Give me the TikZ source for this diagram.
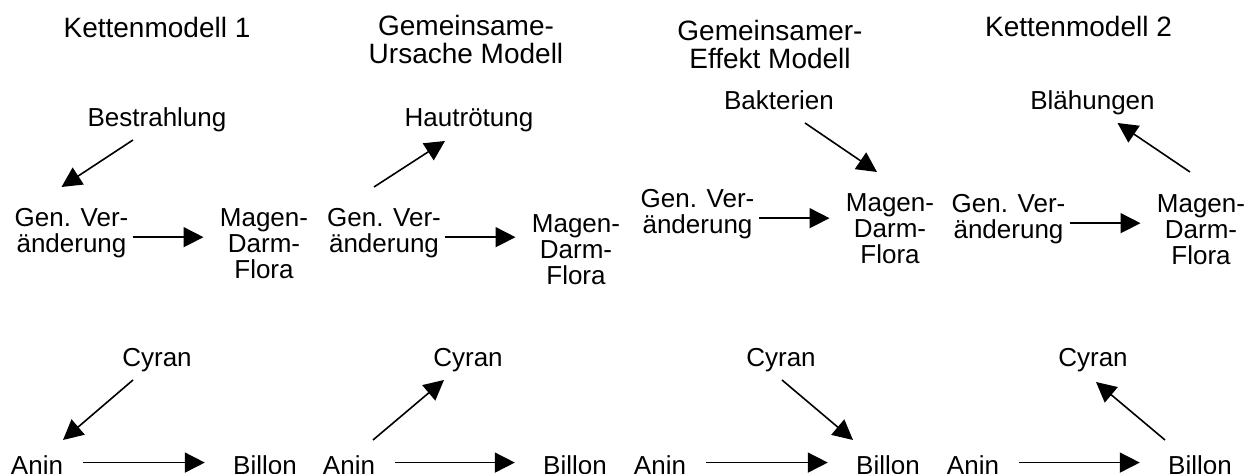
\documentclass[tikz,border=0pt]{standalone}
\usepackage{fontspec}
\setmainfont{Liberation Sans}
\usetikzlibrary{arrows.meta,calc}

\newcommand{\bodysize}{\fontsize{13pt}{13pt}\selectfont}
\newcommand{\headsize}{\fontsize{14pt}{14pt}\selectfont}

\begin{document}
\begin{tikzpicture}[
						x=0.5pt, y=-0.5pt,
						every node/.style={inner sep=0pt, font=\bodysize},
						heading/.style={align=center, font=\headsize},
						multi/.style={align=center},
						arr/.style={-{Triangle[length=10pt,width=10pt]}, line width=0.8pt},
						hor/.style={arr, shorten <=2pt, shorten >=8pt},
						low/.style={arr, shorten <=10pt, shorten >=14pt}
						]
						
						\useasboundingbox (0,0) rectangle (1255,474);
						
						% Kettenmodell 1
						\node[heading, anchor=base] (head1) at (157,38) {Kettenmodell 1};
						\node[anchor=base] (best1) at (157,127) {Bestrahlung};
						\node[multi, anchor=north] (gen1) at (71.5,208) {Gen. Ver-\\änderung};
						\node[multi, anchor=north] (flora1) at (264,208) {Magen-\\Darm-\\Flora};
						\draw[arr] ($(best1.base)+(-24,13)$) -- ($(gen1.north)+(-10,-21)$);
						\draw[hor] ([yshift=-2pt]gen1.east) -- ([yshift=-2pt]gen1.east -| flora1.west);
						
						% Gemeinsame-Ursache Modell
						\node[heading, anchor=north] (head2) at (466,14.6) {Gemeinsame-\\Ursache Modell};
						\node[anchor=base] (haut2) at (469,127) {Hautrötung};
						\node[multi, anchor=north] (gen2) at (384,208) {Gen. Ver-\\änderung};
						\node[multi, anchor=north] (flora2) at (576,214) {Magen-\\Darm-\\Flora};
						\draw[arr] ($(gen2.north)+(-10,-21)$) -- ($(haut2.base)+(-24,14)$);
						\draw[hor] ([yshift=-2pt]gen2.east) -- ([yshift=-2pt]gen2.east -| flora2.west);
						
						% Gemeinsamer-Effekt Modell
						\node[heading, anchor=north] (head3) at (770,19.6) {Gemeinsamer-\\Effekt Modell};
						\node[anchor=base] (bakt3) at (779,110) {Bakterien};
						\node[multi, anchor=north] (gen3) at (697.5,189) {Gen. Ver-\\änderung};
						\node[multi, anchor=north] (flora3) at (890,193) {Magen-\\Darm-\\Flora};
						\draw[arr] ($(bakt3.base)+(26,13)$) -- ($(flora3.north)+(-13,-21)$);
						\draw[hor] ([yshift=-2pt]gen3.east) -- ([yshift=-2pt]gen3.east -| flora3.west);
						
						% Kettenmodell 2
						\node[heading, anchor=base] (head4) at (1078.5,37) {Kettenmodell 2};
						\node[anchor=base] (blah4) at (1092.5,110) {Blähungen};
						\node[multi, anchor=north] (gen4) at (1008.5,194) {Gen. Ver-\\änderung};
						\node[multi, anchor=north] (flora4) at (1201,194) {Magen-\\Darm-\\Flora};
						\draw[arr] ($(flora4.north)+(-11,-22)$) -- ($(blah4.base)+(25,13)$);
						\draw[hor] ([yshift=-2pt]gen4.east) -- ([yshift=-2pt]gen4.east -| flora4.west);
						
						% lower row
						\node[anchor=base] (cyr1) at (157,367) {Cyran};
						\node[anchor=base] (anin1) at (37,475) {Anin};
						\node[anchor=base] (bil1) at (265,475) {Billon};
						\draw[arr] ($(cyr1.base)+(-24,13)$) -- ($(anin1.base)+(26,-35)$);
						\draw[low] ([yshift=1.5pt]anin1.east) -- ([yshift=1.5pt]anin1.east -| bil1.west);
						
						\node[anchor=base] (cyr2) at (468,367) {Cyran};
						\node[anchor=base] (anin2) at (349,475) {Anin};
						\node[anchor=base] (bil2) at (575,475) {Billon};
						\draw[arr] ($(anin2.base)+(24,-35)$) -- ($(cyr2.base)+(-24,13)$);
						\draw[low] ([yshift=1.5pt]anin2.east) -- ([yshift=1.5pt]anin2.east -| bil2.west);
						
						\node[anchor=base] (cyr3) at (781,367) {Cyran};
						\node[anchor=base] (anin3) at (660,475) {Anin};
						\node[anchor=base] (bil3) at (888,475) {Billon};
						\draw[arr] ($(cyr3.base)+(1,13)$) -- ($(bil3.base)+(-35,-35)$);
						\draw[low] ([yshift=1.5pt]anin3.east) -- ([yshift=1.5pt]anin3.east -| bil3.west);
						
						\node[anchor=base] (cyr4) at (1093,367) {Cyran};
						\node[anchor=base] (anin4) at (973,475) {Anin};
						\node[anchor=base] (bil4) at (1200,475) {Billon};
						\draw[arr] ($(bil4.base)+(-35,-35)$) -- ($(cyr4.base)+(3,15)$);
						\draw[low] ([yshift=1.5pt]anin4.east) -- ([yshift=1.5pt]anin4.east -| bil4.west);
						
					\end{tikzpicture}
\end{document}
